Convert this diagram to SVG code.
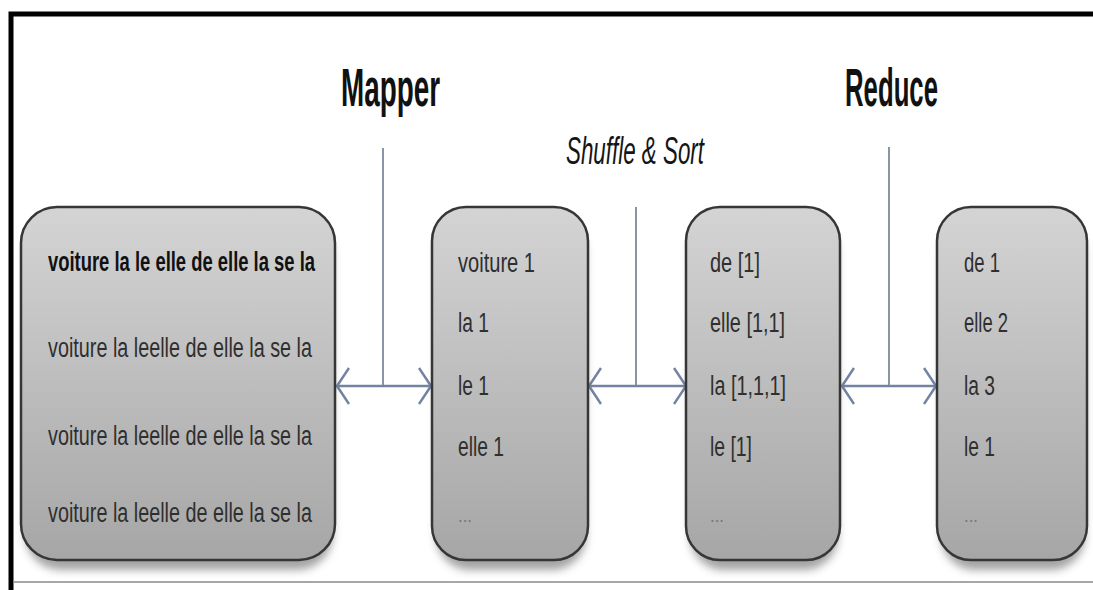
<svg xmlns="http://www.w3.org/2000/svg" width="1093" height="590" viewBox="0 0 1093 590">
  <style>
    .box { fill: url(#boxFill); stroke: #363636; stroke-width: 2.5; }
    .shadow { fill: #4a4a4a; opacity: 0.5; filter: url(#blur); }
    .title { font-family: "Liberation Sans", Arial, sans-serif; font-size: 54px; font-weight: bold; fill: #111; }
    .sub { font-family: "Liberation Sans", Arial, sans-serif; font-size: 38px; font-style: italic; fill: #151515; }
    .txt { font-family: "Liberation Sans", Arial, sans-serif; font-size: 27px; fill: #2f2f2f; }
    .strong { font-weight: bold; fill: #111; }
    .dots { font-family: "Liberation Sans", Arial, sans-serif; font-size: 18px; fill: #777; }
    .link { stroke: #7384a2; stroke-width: 2.5; fill: none; }
    .stem { stroke: #6c7a90; stroke-width: 1.6; fill: none; }
  </style>
  <defs>
    <linearGradient id="boxFill" x1="0" y1="0" x2="0" y2="1">
      <stop offset="0" stop-color="#d4d4d4"/>
      <stop offset="1" stop-color="#a6a6a6"/>
    </linearGradient>
    <filter id="blur" x="-20%" y="-20%" width="140%" height="140%">
      <feGaussianBlur stdDeviation="4"/>
    </filter>
    <marker id="chev" viewBox="0 0 14 40" refX="13" refY="20" markerWidth="14" markerHeight="40" markerUnits="userSpaceOnUse" orient="auto-start-reverse">
      <path d="M1 2 L13 20 L1 38" fill="none" stroke="#7384a2" stroke-width="2.5"/>
    </marker>
  </defs>

  <rect width="1093" height="590" fill="#fff"/>

  <!-- frame -->
  <g id="frame">
    <path d="M11 590 V14 H1093" fill="none" stroke="#000" stroke-width="5"/>
    <line x1="13" y1="582" x2="1093" y2="582" stroke="#8a8a8a" stroke-width="1.5"/>
  </g>

  <!-- stage titles -->
  <g id="titles">
    <text class="title" x="341" y="106" textLength="99" lengthAdjust="spacingAndGlyphs">Mapper</text>
    <text class="sub" x="566" y="164" textLength="138" lengthAdjust="spacingAndGlyphs">Shuffle &amp; Sort</text>
    <text class="title" x="845" y="106" textLength="93" lengthAdjust="spacingAndGlyphs">Reduce</text>
  </g>

  <!-- connectors -->
  <g id="connectors">
    <line class="stem" x1="383" y1="148" x2="383" y2="386"/>
    <line class="link" x1="337" y1="386" x2="431" y2="386" marker-start="url(#chev)" marker-end="url(#chev)"/>
    <line class="stem" x1="636" y1="207" x2="636" y2="386"/>
    <line class="link" x1="589" y1="386" x2="686" y2="386" marker-start="url(#chev)" marker-end="url(#chev)"/>
    <line class="stem" x1="889" y1="147" x2="889" y2="386"/>
    <line class="link" x1="842" y1="386" x2="936" y2="386" marker-start="url(#chev)" marker-end="url(#chev)"/>
  </g>

  <!-- input splits -->
  <g id="input">
    <rect class="shadow" x="25" y="220" width="308" height="350" rx="36"/>
    <rect class="box" x="21" y="207" width="314" height="353" rx="36"/>
    <text class="txt strong" x="48" y="271" textLength="267" lengthAdjust="spacingAndGlyphs">voiture la le elle de elle la se la</text>
    <text class="txt" x="48" y="357" textLength="264" lengthAdjust="spacingAndGlyphs">voiture la leelle de elle la se la</text>
    <text class="txt" x="48" y="445" textLength="264" lengthAdjust="spacingAndGlyphs">voiture la leelle de elle la se la</text>
    <text class="txt" x="48" y="522" textLength="264" lengthAdjust="spacingAndGlyphs">voiture la leelle de elle la se la</text>
  </g>

  <!-- mapper output -->
  <g id="map-out">
    <rect class="shadow" x="436" y="220" width="150" height="350" rx="34"/>
    <rect class="box" x="432" y="207" width="156" height="353" rx="34"/>
    <text class="txt" x="458" y="272" textLength="77" lengthAdjust="spacingAndGlyphs">voiture 1</text>
    <text class="txt" x="458" y="332" textLength="31" lengthAdjust="spacingAndGlyphs">la 1</text>
    <text class="txt" x="458" y="395" textLength="31" lengthAdjust="spacingAndGlyphs">le 1</text>
    <text class="txt" x="458" y="456" textLength="46" lengthAdjust="spacingAndGlyphs">elle 1</text>
    <text class="dots" x="458" y="522" textLength="14" lengthAdjust="spacingAndGlyphs">...</text>
  </g>

  <!-- shuffled groups -->
  <g id="shuffle-out">
    <rect class="shadow" x="690" y="220" width="148" height="350" rx="34"/>
    <rect class="box" x="686" y="207" width="154" height="353" rx="34"/>
    <text class="txt" x="710" y="272" textLength="50" lengthAdjust="spacingAndGlyphs">de [1]</text>
    <text class="txt" x="710" y="332" textLength="75" lengthAdjust="spacingAndGlyphs">elle [1,1]</text>
    <text class="txt" x="710" y="395" textLength="76" lengthAdjust="spacingAndGlyphs">la [1,1,1]</text>
    <text class="txt" x="710" y="456" textLength="42" lengthAdjust="spacingAndGlyphs">le [1]</text>
    <text class="dots" x="710" y="522" textLength="14" lengthAdjust="spacingAndGlyphs">...</text>
  </g>

  <!-- reduce output -->
  <g id="reduce-out">
    <rect class="shadow" x="941" y="220" width="144" height="350" rx="34"/>
    <rect class="box" x="937" y="207" width="150" height="353" rx="34"/>
    <text class="txt" x="964" y="272" textLength="36" lengthAdjust="spacingAndGlyphs">de 1</text>
    <text class="txt" x="964" y="332" textLength="44" lengthAdjust="spacingAndGlyphs">elle 2</text>
    <text class="txt" x="964" y="395" textLength="31" lengthAdjust="spacingAndGlyphs">la 3</text>
    <text class="txt" x="964" y="456" textLength="31" lengthAdjust="spacingAndGlyphs">le 1</text>
    <text class="dots" x="964" y="522" textLength="14" lengthAdjust="spacingAndGlyphs">...</text>
  </g>
</svg>
